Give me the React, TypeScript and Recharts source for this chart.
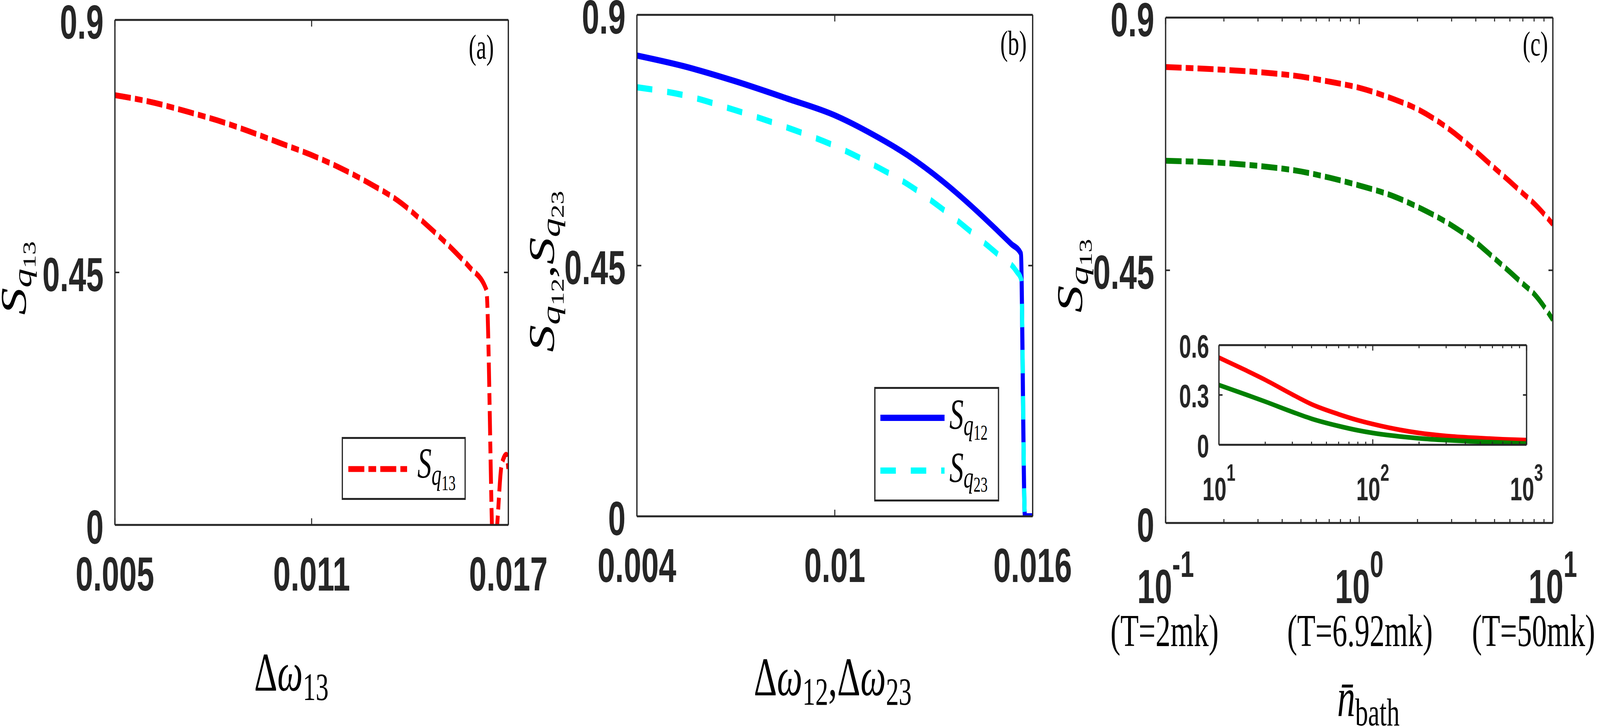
import React from 'react';
import { LineChart, Line, XAxis, YAxis, Legend } from 'recharts';

const INK = '#262626';
const TICK_FONT = '"Liberation Sans", Arial, sans-serif';
const TEX_FONT = '"Liberation Serif", "Times New Roman", serif';
const DASH_DOT = '62 16 30 16';

// panel (a)
const dw13 = [0.005, 0.00623, 0.00718, 0.008125, 0.00907, 0.01002, 0.010965, 0.01181, 0.012756, 0.0137, 0.01454, 0.015385, 0.015806, 0.01633, 0.016558, 0.01666, 0.016796, 0.016937, 0.017];
const sq13 = [0.766, 0.752, 0.737, 0.721, 0.702, 0.681, 0.66, 0.638, 0.609, 0.575, 0.533, 0.486, 0.46, 0.419, -0.084, 0, 0.107, 0.125, 0.1];
const ticksA = [0.005, 0.011, 0.017];

// panel (b)
const dw12 = [0.004, 0.00541, 0.006977, 0.008547, 0.00999, 0.011164, 0.01221, 0.013258, 0.014305, 0.01493, 0.015349, 0.01564, 0.015766, 0.016];
const sq12 = [0.827, 0.808, 0.781, 0.75, 0.72, 0.685, 0.648, 0.602, 0.548, 0.513, 0.489, 0.472, 0, 0];
const dw23 = [0.004, 0.00541, 0.006977, 0.008547, 0.00999, 0.011164, 0.01221, 0.013258, 0.014305, 0.01493, 0.015506, 0.015653, 0.015766, 0.016];
const sq23 = [0.77, 0.756, 0.729, 0.698, 0.665, 0.631, 0.596, 0.552, 0.502, 0.471, 0.44, 0.425, 0, 0];
const ticksB = [0.004, 0.01, 0.016];

const ticksS = [0, 0.45, 0.9];

// panel (c)
const nBath = [0.1, 0.2, 0.3, 0.5, 0.7, 1, 1.5, 2, 3, 4, 5, 6, 7, 8, 10];
const redC = [0.812, 0.807, 0.803, 0.795, 0.786, 0.775, 0.755, 0.737, 0.698, 0.662, 0.632, 0.608, 0.587, 0.569, 0.532];
const greenC = [0.645, 0.641, 0.636, 0.626, 0.615, 0.601, 0.582, 0.563, 0.53, 0.5, 0.471, 0.447, 0.426, 0.408, 0.362];
const ticksC = [0.1, 0.2, 0.3, 0.4, 0.5, 0.6, 0.7, 0.8, 0.9, 1, 2, 3, 4, 5, 6, 7, 8, 9, 10];
const majorC = [0.1, 1, 10];
const expC = ['-1', '0', '1'];
const tempC = ['(T=2mk)', '(T=6.92mk)', '(T=50mk)'];
const tempShift = [-4, 3, -75];

// inset of (c)
const nIn = [10, 15, 20, 30, 40, 60, 80, 100, 150, 200, 300, 500, 700, 1000];
const redIn = [0.525, 0.448, 0.391, 0.303, 0.244, 0.184, 0.148, 0.125, 0.09, 0.071, 0.053, 0.04, 0.033, 0.028];
const greenIn = [0.36, 0.302, 0.26, 0.198, 0.157, 0.113, 0.087, 0.071, 0.05, 0.039, 0.028, 0.018, 0.013, 0.007];
const ticksIn = [10, 20, 30, 40, 50, 60, 70, 80, 90, 100, 200, 300, 400, 500, 600, 700, 800, 900, 1000];
const majorIn = [10, 100, 1000];
const expIn = ['1', '2', '3'];
const ticksInY = [0, 0.3, 0.6];

const pts = (xs: number[], ys: number[]) => xs.map((x, i) => ({ x, y: ys[i] }));
const same = (a: number, b: number) => Math.abs(a - b) <= Math.abs(b) * 1e-6 + 1e-12;

const axisLine = { stroke: INK, strokeWidth: 5 };

type Side = 'bottom' | 'top' | 'left' | 'right';

function tickMaker(
  side: Side,
  majors: number[],
  len: number,
  minorLen: number,
  label?: (v: number, x: number, y: number, i: number) => React.ReactNode
) {
  return (p: any) => {
    const v = p.payload.value;
    const mi = majors.findIndex((m) => same(v, m));
    const major = mi >= 0;
    const L = major ? len : minorLen;
    const { x, y } = p;
    let x2 = x;
    let y2 = y;
    if (side === 'bottom') y2 = y - L;
    if (side === 'top') y2 = y + L;
    if (side === 'left') x2 = x + L;
    if (side === 'right') x2 = x - L;
    return (
      <g>
        <line x1={x} y1={y} x2={x2} y2={y2} stroke={INK} strokeWidth={4} />
        {major && label ? label(v, x, y, mi) : null}
      </g>
    );
  };
}

const numX = (v: number, x: number, y: number) => (
  <text x={x} y={y + 168} textAnchor="middle" fontFamily={TICK_FONT} fontWeight={700} fontSize={122} fill={INK}>
    {String(v)}
  </text>
);

const numY = (v: number, x: number, y: number) => (
  <text x={x - 44} y={y + 48} textAnchor="end" fontFamily={TICK_FONT} fontWeight={700} fontSize={122} fill={INK}>
    {String(v)}
  </text>
);

const logXC = (v: number, x: number, y: number, i: number) => (
  <g>
    <text x={x} y={y + 205} textAnchor="middle" fontFamily={TICK_FONT} fontWeight={700} fontSize={122} fill={INK}>
      10
      <tspan dy={-67} fontSize={95}>
        {expC[i]}
      </tspan>
    </text>
    <text x={x + tempShift[i]} y={y + 315} textAnchor="middle" fontFamily={TEX_FONT} fontSize={116} fill="#000">
      {tempC[i]}
    </text>
  </g>
);

const logXIn = (v: number, x: number, y: number, i: number) => (
  <text x={x} y={y + 142} textAnchor="middle" fontFamily={TICK_FONT} fontWeight={700} fontSize={84} fill={INK}>
    10
    <tspan dy={-50} fontSize={62}>
      {expIn[i]}
    </tspan>
  </text>
);

const numYIn = (v: number, x: number, y: number) => (
  <text x={x - 38} y={y + 32} textAnchor="end" fontFamily={TICK_FONT} fontWeight={700} fontSize={84} fill={INK}>
    {String(v)}
  </text>
);

// S with a two-level subscript, e.g. S_{q_{13}}
const SSub = ({ idx, big, dy1, dy2 }: { idx: string; big: number; dy1: number; dy2: number }) => (
  <>
    <tspan fontStyle="italic" fontSize={big}>S</tspan>
    <tspan fontStyle="italic" fontSize={big * 0.7} dy={dy1}>q</tspan>
    <tspan fontSize={big * 0.5} dy={dy2}>{idx}</tspan>
  </>
);

// axis labels get drawn at fixed spots; the props recharts passes in are ignored
const Fixed = ({ node }: any) => <g>{node}</g>;

const yTitle = (px: number, py: number, parts: React.ReactNode) => (
  <Fixed
    node={
      <text x={px} y={py} transform={`rotate(-90 ${px} ${py})`} fontFamily={TEX_FONT} fill="#000">
        {parts}
      </text>
    }
  />
);

const panelTag = (px: number, py: number, tag: string) => (
  <Fixed
    node={
      <text x={px} y={py} textAnchor="end" fontFamily={TEX_FONT} fontSize={88} fill="#000">
        {tag}
      </text>
    }
  />
);

function LegendA() {
  return (
    <svg width={482} height={161} style={{ display: 'block', overflow: 'visible' }}>
      <rect x={2.5} y={2.5} width={477} height={156} fill="#fff" stroke={INK} strokeWidth={5} />
      <line x1={26} y1={82} x2={254} y2={82} stroke="#ff0000" strokeWidth={15} strokeDasharray={DASH_DOT} />
      <text x={294} y={104} fontFamily={TEX_FONT} fill="#000">
        <SSub idx="13" big={110} dy1={18} dy2={14} />
      </text>
    </svg>
  );
}

function LegendB() {
  return (
    <svg width={485} height={293} style={{ display: 'block', overflow: 'visible' }}>
      <rect x={2.5} y={2.5} width={480} height={288} fill="#fff" stroke={INK} strokeWidth={5} />
      <line x1={24} y1={79} x2={273} y2={79} stroke="#0000ff" strokeWidth={16} />
      <text x={292} y={107} fontFamily={TEX_FONT} fill="#000">
        <SSub idx="12" big={110} dy1={16} dy2={12} />
      </text>
      <line x1={24} y1={214} x2={273} y2={214} stroke="#00ffff" strokeWidth={16} strokeDasharray="60 58" />
      <text x={292} y={243} fontFamily={TEX_FONT} fill="#000">
        <SSub idx="23" big={110} dy1={14} dy2={11} />
      </text>
    </svg>
  );
}

function PanelA() {
  const data = pts(dw13, sq13);
  return (
    <div style={{ position: 'absolute', left: 0, top: 0 }}>
      <LineChart width={2200} height={1860} margin={{ top: 50, right: 226, bottom: 0, left: 0 }}>
        <XAxis
          dataKey="x" type="number" domain={[0.005, 0.017]} allowDataOverflow ticks={ticksA} interval={0}
          height={517} tickLine={false} tickSize={0} tickMargin={0} axisLine={axisLine}
          tick={tickMaker('bottom', ticksA, 17, 10, numX)}
          label={
            <Fixed
              node={
                <text x={1131} y={1767} textAnchor="middle" fontFamily={TEX_FONT} fontSize={140} fill="#000">
                  Δ<tspan fontStyle="italic">ω</tspan>
                  <tspan fontSize={100} dy={24}>13</tspan>
                </text>
              }
            />
          }
        />
        <XAxis
          xAxisId="top" orientation="top" dataKey="x" type="number" domain={[0.005, 0.017]} allowDataOverflow
          ticks={ticksA} interval={0} height={1} tickLine={false} tickSize={0} tickMargin={0} axisLine={axisLine}
          tick={tickMaker('top', ticksA, 17, 10)}
          label={panelTag(1917, 150, '(a)')}
        />
        <YAxis
          type="number" domain={[0, 0.9]} allowDataOverflow ticks={ticksS} interval={0} width={446}
          tickLine={false} tickSize={0} tickMargin={0} axisLine={axisLine}
          tick={tickMaker('left', ticksS, 17, 10, numY)}
          label={yTitle(100, 806, <SSub idx="13" big={140} dy1={22} dy2={16} />)}
        />
        <YAxis
          yAxisId="r" orientation="right" type="number" domain={[0, 0.9]} allowDataOverflow ticks={ticksS}
          interval={0} width={1} tickLine={false} tickSize={0} tickMargin={0} axisLine={axisLine}
          tick={tickMaker('right', ticksS, 17, 10)}
        />
        <Line data={data} dataKey="y" type="monotone" stroke="#ff0000" strokeWidth={15} strokeDasharray={DASH_DOT} dot={false} isAnimationActive={false} />
        <Legend
          layout="horizontal" verticalAlign="middle" align="center" content={() => <LegendA />}
          wrapperStyle={{ left: 1326, top: 1118, width: 482, height: 161 }}
        />
      </LineChart>
    </div>
  );
}

function PanelB() {
  const d12 = pts(dw12, sq12);
  const d23 = pts(dw23, sq23);
  return (
    <div style={{ position: 'absolute', left: 2050, top: 0 }}>
      <LineChart width={2200} height={1860} margin={{ top: 37, right: 241, bottom: 0, left: 0 }}>
        <XAxis
          dataKey="x" type="number" domain={[0.004, 0.016]} allowDataOverflow ticks={ticksB} interval={0}
          height={539} tickLine={false} tickSize={0} tickMargin={0} axisLine={axisLine}
          tick={tickMaker('bottom', ticksB, 17, 10, numX)}
          label={
            <Fixed
              node={
                <text x={1182} y={1779} textAnchor="middle" fontFamily={TEX_FONT} fontSize={140} fill="#000">
                  Δ<tspan fontStyle="italic">ω</tspan>
                  <tspan fontSize={100} dy={24}>12</tspan>
                  <tspan dy={-24}>,Δ</tspan>
                  <tspan fontStyle="italic">ω</tspan>
                  <tspan fontSize={100} dy={24}>23</tspan>
                </text>
              }
            />
          }
        />
        <XAxis
          xAxisId="top" orientation="top" dataKey="x" type="number" domain={[0.004, 0.016]} allowDataOverflow
          ticks={ticksB} interval={0} height={1} tickLine={false} tickSize={0} tickMargin={0} axisLine={axisLine}
          tick={tickMaker('top', ticksB, 17, 10)}
          label={panelTag(1935, 140, '(b)')}
        />
        <YAxis
          type="number" domain={[0, 0.9]} allowDataOverflow ticks={ticksS} interval={0} width={422}
          tickLine={false} tickSize={0} tickMargin={0} axisLine={axisLine}
          tick={tickMaker('left', ticksS, 17, 10, numY)}
          label={yTitle(
            100,
            901,
            <>
              <SSub idx="12" big={140} dy1={22} dy2={16} />
              <tspan fontSize={140} dy={-38}>,</tspan>
              <SSub idx="23" big={140} dy1={22} dy2={16} />
            </>
          )}
        />
        <YAxis
          yAxisId="r" orientation="right" type="number" domain={[0, 0.9]} allowDataOverflow ticks={ticksS}
          interval={0} width={1} tickLine={false} tickSize={0} tickMargin={0} axisLine={axisLine}
          tick={tickMaker('right', ticksS, 17, 10)}
        />
        <Line data={d12} dataKey="y" type="monotone" stroke="#0000ff" strokeWidth={16} dot={false} isAnimationActive={false} />
        <Line data={d23} dataKey="y" type="monotone" stroke="#00ffff" strokeWidth={16} strokeDasharray="60 58" dot={false} isAnimationActive={false} />
        <Legend
          layout="horizontal" verticalAlign="middle" align="center" content={() => <LegendB />}
          wrapperStyle={{ left: 1343, top: 990, width: 485, height: 293 }}
        />
      </LineChart>
    </div>
  );
}

function PanelC() {
  const red = pts(nBath, redC);
  const green = pts(nBath, greenC);
  return (
    <div style={{ position: 'absolute', left: 4100, top: 0 }}>
      <LineChart width={2110} height={1860} margin={{ top: 44, right: 182, bottom: 0, left: 0 }}>
        <XAxis
          dataKey="x" type="number" scale="log" domain={[0.1, 10]} allowDataOverflow ticks={ticksC} interval={0}
          height={522} tickLine={false} tickSize={0} tickMargin={0} axisLine={axisLine}
          tick={tickMaker('bottom', majorC, 17, 10, logXC)}
          label={
            <Fixed
              node={
                <text x={1211} y={1832} textAnchor="middle" fontFamily={TEX_FONT} fontSize={140} fill="#000">
                  <tspan fontStyle="italic">{'n\u0304'}</tspan>
                  <tspan fontSize={100} dy={24}>bath</tspan>
                </text>
              }
            />
          }
        />
        <XAxis
          xAxisId="top" orientation="top" dataKey="x" type="number" scale="log" domain={[0.1, 10]} allowDataOverflow
          ticks={ticksC} interval={0} height={1} tickLine={false} tickSize={0} tickMargin={0} axisLine={axisLine}
          tick={tickMaker('top', majorC, 17, 10)}
          label={panelTag(1908, 142, '(c)')}
        />
        <YAxis
          type="number" domain={[0, 0.9]} allowDataOverflow ticks={ticksS} interval={0} width={424}
          tickLine={false} tickSize={0} tickMargin={0} axisLine={axisLine}
          tick={tickMaker('left', ticksS, 17, 10, numY)}
          label={yTitle(100, 800, <SSub idx="13" big={140} dy1={22} dy2={16} />)}
        />
        <YAxis
          yAxisId="r" orientation="right" type="number" domain={[0, 0.9]} allowDataOverflow ticks={ticksS}
          interval={0} width={1} tickLine={false} tickSize={0} tickMargin={0} axisLine={axisLine}
          tick={tickMaker('right', ticksS, 17, 10)}
        />
        <Line data={red} dataKey="y" type="monotone" stroke="#ff0000" strokeWidth={15} strokeDasharray={DASH_DOT} dot={false} isAnimationActive={false} />
        <Line data={green} dataKey="y" type="monotone" stroke="#008000" strokeWidth={15} strokeDasharray={DASH_DOT} dot={false} isAnimationActive={false} />
      </LineChart>
    </div>
  );
}

function Inset() {
  const red = pts(nIn, redIn);
  const green = pts(nIn, greenIn);
  return (
    <div style={{ position: 'absolute', left: 4550, top: 850 }}>
      <LineChart width={1450} height={460} margin={{ top: 32, right: 74, bottom: 0, left: 0 }}>
        <XAxis
          dataKey="x" type="number" scale="log" domain={[10, 1000]} allowDataOverflow ticks={ticksIn} interval={0}
          height={172} tickLine={false} tickSize={0} tickMargin={0} axisLine={axisLine}
          tick={tickMaker('bottom', majorIn, 14, 8, logXIn)}
        />
        <XAxis
          xAxisId="top" orientation="top" dataKey="x" type="number" scale="log" domain={[10, 1000]} allowDataOverflow
          ticks={ticksIn} interval={0} height={1} tickLine={false} tickSize={0} tickMargin={0} axisLine={axisLine}
          tick={tickMaker('top', majorIn, 14, 8)}
        />
        <YAxis
          type="number" domain={[0, 0.6]} allowDataOverflow ticks={ticksInY} interval={0} width={181}
          tickLine={false} tickSize={0} tickMargin={0} axisLine={axisLine}
          tick={tickMaker('left', ticksInY, 14, 8, numYIn)}
        />
        <YAxis
          yAxisId="r" orientation="right" type="number" domain={[0, 0.6]} allowDataOverflow ticks={ticksInY}
          interval={0} width={1} tickLine={false} tickSize={0} tickMargin={0} axisLine={axisLine}
          tick={tickMaker('right', ticksInY, 14, 8)}
        />
        <Line data={red} dataKey="y" type="monotone" stroke="#ff0000" strokeWidth={12} dot={false} isAnimationActive={false} />
        <Line data={green} dataKey="y" type="monotone" stroke="#008000" strokeWidth={12} dot={false} isAnimationActive={false} />
      </LineChart>
    </div>
  );
}

// the drawing is laid out in 6210x1860 units; the window that photographs it
// is narrower (4096 css px wide), so the whole figure is fitted to it
const W = 6210;
const H = 1860;

export default function App() {
  const vw = document.documentElement.clientWidth || W;
  const vh = document.documentElement.clientHeight || H;
  const sx = Math.min(vw / W, 1);
  const sy = Math.min(vh / H, 1);
  return (
    <div style={{ position: 'absolute', left: 0, top: 0, width: W * sx, height: H * sy, overflow: 'hidden', background: '#fff' }}>
      <div style={{ position: 'absolute', left: 0, top: 0, width: W, height: H, transform: `scale(${sx}, ${sy})`, transformOrigin: '0 0' }}>
        <PanelA />
        <PanelB />
        <PanelC />
        <Inset />
      </div>
    </div>
  );
}
